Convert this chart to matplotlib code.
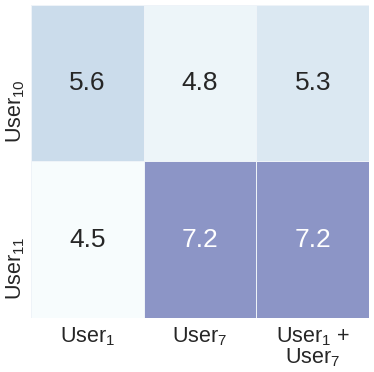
import matplotlib
matplotlib.use("Agg")
import matplotlib.pyplot as plt
import matplotlib.transforms as mtransforms
import numpy as np
import seaborn as sns

rows = ["User$_{10}$", "User$_{11}$"]
cols = ["User$_{1}$", "User$_{7}$", "User$_{1}$ +\nUser$_{7}$"]
values = [[5.6, 4.8, 5.3],
          [4.5, 7.2, 7.2]]

plt.rcParams['font.family'] = ['Liberation Sans', 'DejaVu Sans']
plt.rcParams['mathtext.fontset'] = 'custom'
plt.rcParams['mathtext.rm'] = 'Liberation Sans'
plt.rcParams['mathtext.it'] = 'Liberation Sans:italic'
plt.rcParams['mathtext.bf'] = 'Liberation Sans:bold'

fig = plt.figure(figsize=(3.74, 3.72), dpi=100)
ax = fig.add_axes([0.083, 0.145, 0.904, 0.842])
data = np.array(values)
sns.heatmap(data, ax=ax, cmap="BuPu", vmin=4.5, vmax=9.9, cbar=False,
            linewidths=0.6, linecolor="#eef3f8",
            annot=True, fmt=".1f", annot_kws={"fontsize": 19})
for t in ax.texts:
    v = float(t.get_text())
    t.set_color("white" if v > 6.5 else "#262626")
ax.set_xticklabels(cols, fontsize=15.5, color="#262626", linespacing=0.95)
ax.set_yticklabels(rows, fontsize=15.5, rotation=90, va="center", color="#262626")
ax.tick_params(axis="x", length=0, pad=5)
ax.tick_params(axis="y", length=0, pad=3)
offset = mtransforms.ScaledTranslation(0, -0.28, fig.dpi_scale_trans)
for lab in ax.get_yticklabels():
    lab.set_transform(lab.get_transform() + offset)
fig.savefig("out.png", dpi=100)
